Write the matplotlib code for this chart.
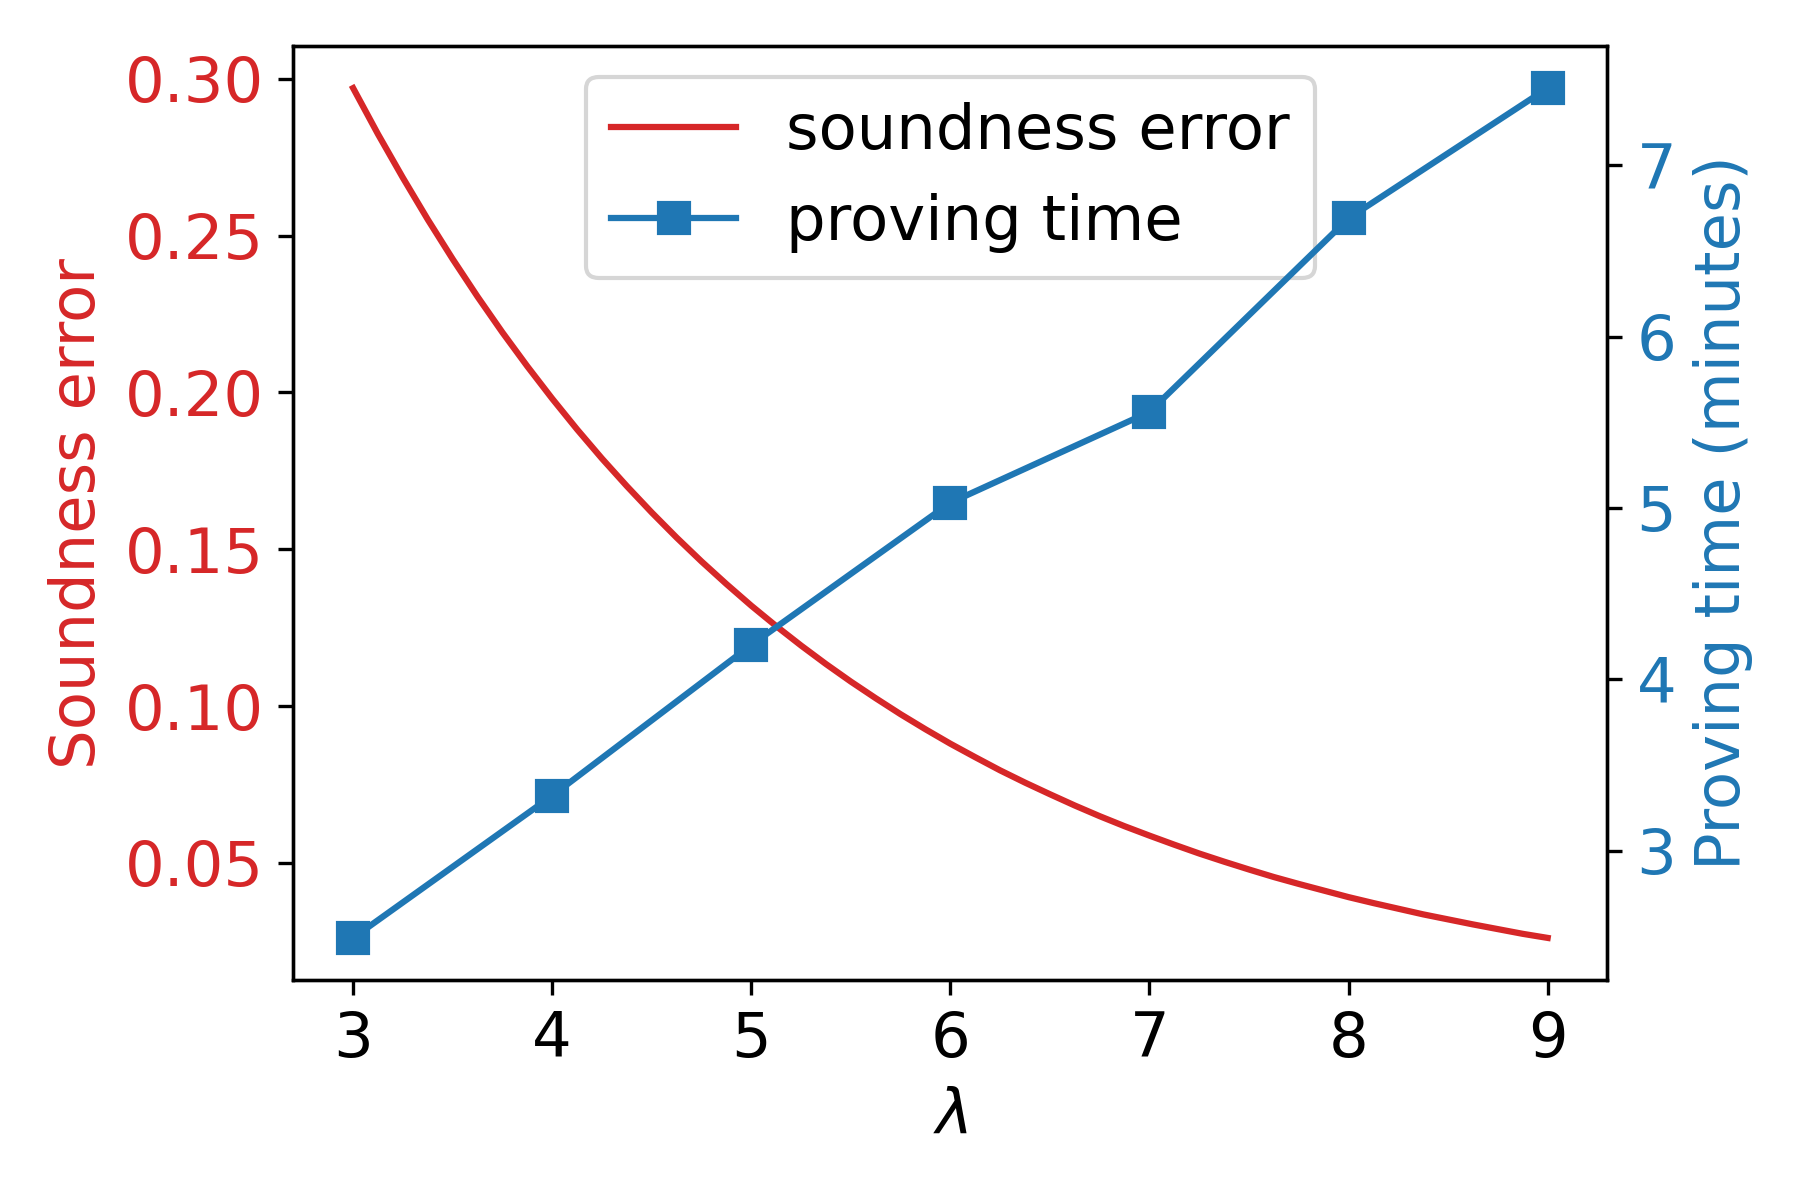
import matplotlib
matplotlib.use("Agg")
import matplotlib.pyplot as plt

# soundness error
lam_fine = [3.000, 3.125, 3.250, 3.375, 3.500, 3.625, 3.750, 3.875,
            4.000, 4.125, 4.250, 4.375, 4.500, 4.625, 4.750, 4.875,
            5.000, 5.125, 5.250, 5.375, 5.500, 5.625, 5.750, 5.875,
            6.000, 6.125, 6.250, 6.375, 6.500, 6.625, 6.750, 6.875,
            7.000, 7.125, 7.250, 7.375, 7.500, 7.625, 7.750, 7.875,
            8.000, 8.125, 8.250, 8.375, 8.500, 8.625, 8.750, 8.875, 9.000]
soundness = [0.2970, 0.2823, 0.2684, 0.2551, 0.2425, 0.2305, 0.2191, 0.2083,
             0.1980, 0.1882, 0.1789, 0.1701, 0.1617, 0.1537, 0.1461, 0.1389,
             0.1320, 0.1255, 0.1193, 0.1134, 0.1078, 0.1025, 0.0974, 0.0926,
             0.0880, 0.0837, 0.0795, 0.0756, 0.0719, 0.0683, 0.0649, 0.0617,
             0.0587, 0.0558, 0.0530, 0.0504, 0.0479, 0.0455, 0.0433, 0.0412,
             0.0391, 0.0372, 0.0354, 0.0336, 0.0320, 0.0304, 0.0289, 0.0274, 0.0261]

# proving time
lam = [3, 4, 5, 6, 7, 8, 9]
proving_time = [2.49, 3.32, 4.20, 5.03, 5.56, 6.69, 7.45]

plt.rcParams['font.size'] = 15

fig = plt.figure(figsize=(6, 4), dpi=300)
ax1 = fig.add_axes([0.163, 0.183, 0.730, 0.779])
ax2 = ax1.twinx()

red = 'tab:red'
blue = 'tab:blue'

l1, = ax1.plot(lam_fine, soundness, color=red, label='soundness error')
l2, = ax2.plot(lam, proving_time, color=blue, marker='s', markersize=7, label='proving time')

ax1.set_xlabel(r'$\lambda$')
ax1.set_ylabel('Soundness error', color=red)
ax2.set_ylabel('Proving time (minutes)', color=blue)
ax1.tick_params(axis='y', labelcolor=red)
ax2.tick_params(axis='y', labelcolor=blue)
ax1.set_xticks(lam)

ax1.legend(handles=[l1, l2], loc='upper center')

fig.savefig('out.png', dpi=300)
